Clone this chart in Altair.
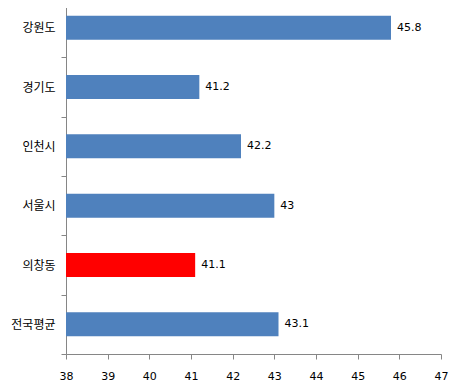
import altair as alt
import pandas as pd

categories = ["강원도", "경기도", "인천시", "서울시", "의창동", "전국평균"]
values = [45.8, 41.2, 42.2, 43.0, 41.1, 43.1]
labels = ["45.8", "41.2", "42.2", "43", "41.1", "43.1"]
colors = ["#4F81BD", "#4F81BD", "#4F81BD", "#4F81BD", "#FF0000", "#4F81BD"]

df = pd.DataFrame({"cat": categories, "val": values, "lab": labels, "col": colors})

y = alt.Y(
    "cat:N",
    sort=categories,
    scale=alt.Scale(paddingInner=0, paddingOuter=0),
    axis=alt.Axis(
        title=None,
        tickBand="extent",
        tickSize=5,
        labelPadding=6,
        labelFont="Noto Sans CJK KR",
        labelFontSize=12,
        labelColor="#000000",
        domainColor="#868686",
        tickColor="#868686",
        labelLimit=200,
    ),
)
x = alt.X(
    "val:Q",
    scale=alt.Scale(domain=[38, 47], zero=False, nice=False),
    axis=alt.Axis(
        title=None,
        values=list(range(38, 48)),
        tickSize=5,
        labelPadding=11,
        labelFont="DejaVu Sans",
        labelFontSize=11,
        labelColor="#000000",
        domainColor="#868686",
        tickColor="#868686",
        grid=False,
        labelFlush=False,
    ),
)

bars = alt.Chart(df).mark_bar(size=24, clip=True).encode(
    x=x, y=y, color=alt.Color("col:N", scale=None)
)
text = alt.Chart(df).mark_text(
    align="left", baseline="middle", dx=6, font="DejaVu Sans", fontSize=11, color="#000000"
).encode(x="val:Q", y=alt.Y("cat:N", sort=categories), text="lab:N")

chart = (
    alt.layer(bars, text)
    .properties(
        width=375,
        height=356,
        autosize=alt.AutoSizeParams(type="none"),
        padding={"left": 58, "top": -10, "right": 15, "bottom": 32},
    )
    .configure_view(stroke=None)
)

chart.save("out.html", embed_options={"renderer": "svg", "actions": False})
